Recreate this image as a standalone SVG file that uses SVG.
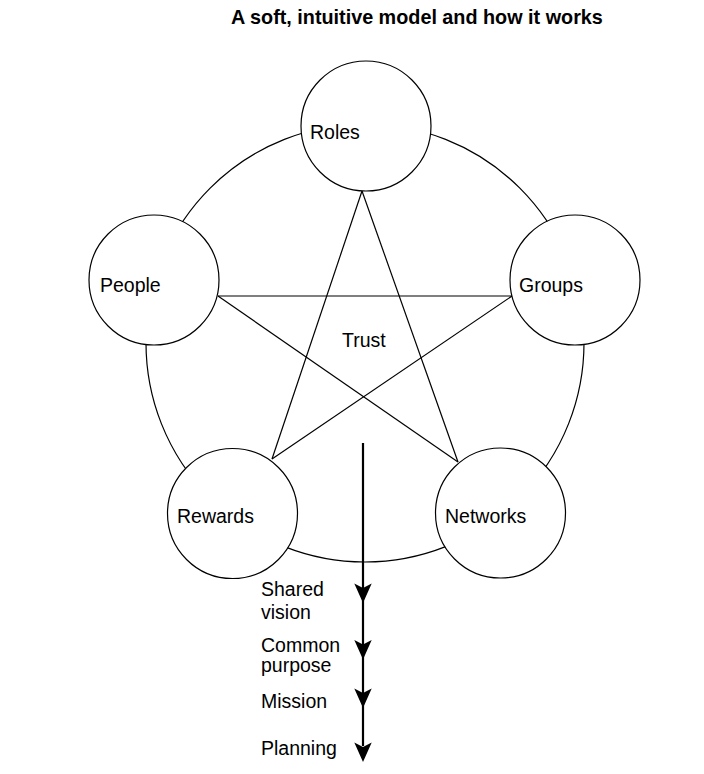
<svg xmlns="http://www.w3.org/2000/svg" width="704" height="774" viewBox="0 0 704 774">
<style>
text{font-family:"Liberation Sans",Arial,sans-serif;font-size:19.5px;fill:#000}
.title{font-weight:bold;font-size:19.8px}
.node{fill:#fff;stroke:#000;stroke-width:1.2}
.edge{fill:none;stroke:#000;stroke-width:1.2}
.flow{stroke:#000;stroke-width:2.2;fill:none}
.head{fill:#000;stroke:none}
</style>
<defs>
<path id="ah" d="M0,0 L-8.7,-19.5 L0,-15 L8.7,-19.5 Z"/>
</defs>
<rect width="704" height="774" fill="#fff"/>
<text class="title" x="231" y="24">A soft, intuitive model and how it works</text>
<g id="connectors">
<circle class="edge" cx="365" cy="343" r="219"/>
<line class="edge" x1="362" y1="191" x2="272" y2="459"/>
<line class="edge" x1="362" y1="191" x2="458" y2="462"/>
<line class="edge" x1="218" y1="296" x2="512" y2="296"/>
<line class="edge" x1="218" y1="296" x2="458" y2="462"/>
<line class="edge" x1="512" y1="296" x2="272" y2="459"/>
<line class="flow" x1="363" y1="443" x2="363" y2="746"/>
<use href="#ah" class="head" x="363" y="603"/>
<use href="#ah" class="head" x="363" y="659.5"/>
<use href="#ah" class="head" x="363" y="708"/>
<use href="#ah" class="head" x="363" y="762"/>
</g>
<g id="roles"><circle class="node" cx="366" cy="126" r="65"/><text x="310" y="139">Roles</text></g>
<g id="people"><circle class="node" cx="154" cy="280" r="65"/><text x="100" y="292">People</text></g>
<g id="groups"><circle class="node" cx="575" cy="280" r="65"/><text x="519" y="292">Groups</text></g>
<g id="rewards"><circle class="node" cx="232.5" cy="513.5" r="65"/><text x="177" y="523">Rewards</text></g>
<g id="networks"><circle class="node" cx="500.5" cy="513" r="65"/><text x="445" y="523">Networks</text></g>
<g id="trust"><text x="342" y="347">Trust</text></g>
<g id="labels">
<text x="261" y="596">Shared</text>
<text x="261" y="619">vision</text>
<text x="261" y="652">Common</text>
<text x="261" y="672">purpose</text>
<text x="261" y="708">Mission</text>
<text x="261" y="755">Planning</text>
</g>
</svg>
